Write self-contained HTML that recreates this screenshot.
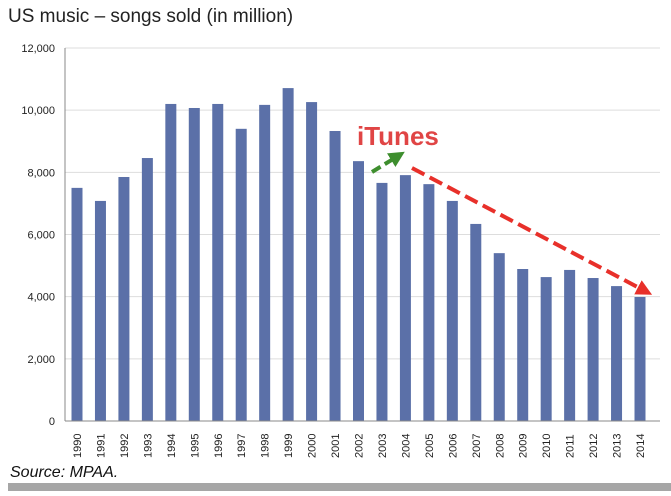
<!DOCTYPE html>
<html><head><meta charset="utf-8"><style>
body{margin:0;background:#fff;width:671px;height:491px;overflow:hidden}
text{font-family:"Liberation Sans",Arial,sans-serif}
</style></head><body>
<svg width="671" height="491">
<text x="8" y="22" font-size="19" fill="#222">US music – songs sold (in million)</text>
<g id="grid"></g><g id="bars"></g><g id="xl"></g>
<line x1="65" y1="48" x2="65" y2="421" stroke="#888"/>
<line x1="65" y1="421" x2="660" y2="421" stroke="#888"/>
<text x="357" y="145" font-size="26" font-weight="bold" fill="#e04545">iTunes</text>
<defs>
<marker id="ag" markerWidth="4" markerHeight="4" refX="2" refY="2" orient="auto"><path d="M0,0L4,2L0,4z" fill="#3e8e2e"/></marker>
<marker id="ar" markerWidth="4" markerHeight="4" refX="2" refY="2" orient="auto"><path d="M0,0L4,2L0,4z" fill="#e8302a"/></marker>
</defs>
<line x1="372" y1="172" x2="398" y2="156" stroke="#3e8e2e" stroke-width="4" stroke-dasharray="10,5" marker-end="url(#ag)"/>
<line x1="412" y1="168" x2="645" y2="291" stroke="#e8302a" stroke-width="4" stroke-dasharray="14,6" marker-end="url(#ar)"/>
<text x="10" y="477" font-size="16" font-style="italic" fill="#111">Source: MPAA.</text>
<rect x="8" y="483" width="663" height="8" fill="#a6a6a6"/>
</svg>
<script>
const years=["1990","1991","1992","1993","1994","1995","1996","1997","1998","1999","2000","2001","2002","2003","2004","2005","2006","2007","2008","2009","2010","2011","2012","2013","2014"];
const songs=[7500,7080,7850,8460,10200,10070,10200,9400,10170,10710,10260,9330,8360,7660,7910,7620,7080,6340,5400,4890,4630,4860,4600,4340,3990];
const yTicks=[0,2000,4000,6000,8000,10000,12000];
const NS="http://www.w3.org/2000/svg";
const y=v=>421-v/12000*373;
const x=i=>77+i*(563/24);
function mk(t,a,p){const e=document.createElementNS(NS,t);for(const k in a)e.setAttribute(k,a[k]);document.getElementById(p).appendChild(e);return e;}
yTicks.forEach(v=>{
 if(v>0){const g=mk('line',{x1:65,x2:660,y1:y(v),y2:y(v),stroke:'#ddd'},'grid');
 
 }
 const t=mk('text',{x:55,y:y(v)+4,'text-anchor':'end','font-size':11,fill:'#222'},'grid');
 t.textContent=v.toLocaleString('en-US');
 
 
});
songs.forEach((v,i)=>{
 const b=mk('rect',{x:x(i)-5.5,y:y(v),width:11,height:421-y(v),fill:'#5b70a8'},'bars');
 
 
 const t=mk('text',{transform:`translate(${x(i)+4},458) rotate(-90)`,'font-size':11,fill:'#222'},'xl');
 t.textContent=years[i];
 
 
});
</script>
</body></html>
